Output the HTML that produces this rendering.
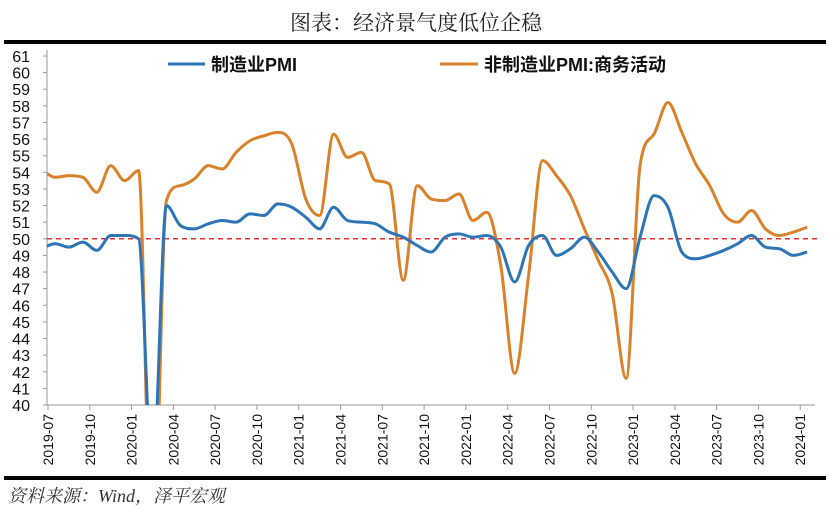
<!DOCTYPE html>
<html><head><meta charset="utf-8"><style>
html,body{margin:0;padding:0;background:#fff;width:833px;height:513px;overflow:hidden}
svg{display:block}
svg text{font-family:"Liberation Sans","Noto Sans CJK SC",sans-serif}
</style></head><body>
<svg id="c" width="833" height="513" xmlns="http://www.w3.org/2000/svg">
<text x="416" y="30" text-anchor="middle" font-size="21" fill="#222" style="font-family:'Liberation Serif','Noto Serif CJK SC',serif">图表：经济景气度低位企稳</text>
<rect x="4" y="40" width="822" height="4" fill="#000"/>
<rect x="4" y="476" width="822" height="4" fill="#000"/>
<text x="8" y="502" font-size="18" font-style="italic" fill="#333" style="font-family:'Liberation Serif','Noto Serif CJK SC',serif">资料来源：Wind，泽平宏观</text>
<defs><clipPath id="clip"><rect x="47" y="50" width="780" height="355"/></clipPath></defs>
<g id="axes"></g>
<g id="series" clip-path="url(#clip)"></g>
<g>
<line x1="168" y1="64" x2="205" y2="64" stroke="#2e75b6" stroke-width="3"/>
<text x="211" y="71" font-size="18" font-weight="bold" fill="#111">制造业PMI</text>
<line x1="440" y1="64" x2="478" y2="64" stroke="#d9822b" stroke-width="3"/>
<text x="484" y="71" font-size="18" font-weight="bold" fill="#111">非制造业PMI:商务活动</text>
</g>
</svg>
<script>
const yTicks=[40,41,42,43,44,45,46,47,48,49,50,51,52,53,54,55,56,57,58,59,60,61];
const xTickLabels=["2019-07","2019-10","2020-01","2020-04","2020-07","2020-10","2021-01","2021-04","2021-07","2021-10","2022-01","2022-04","2022-07","2022-10","2023-01","2023-04","2023-07","2023-10","2024-01"];
// series start at 2019-06 (partly clipped at left edge)
const mfg=[49.4,49.7,49.5,49.8,49.3,50.2,50.2,50.0,35.7,52.0,50.8,50.6,50.9,51.1,51.0,51.5,51.4,52.1,51.9,51.3,50.6,51.9,51.1,51.0,50.9,50.4,50.1,49.6,49.2,50.1,50.3,50.1,50.2,49.5,47.4,49.6,50.2,49.0,49.4,50.1,49.2,48.0,47.0,50.1,52.6,51.9,49.2,48.8,49.0,49.3,49.7,50.2,49.5,49.4,49.0,49.2];
const nonMfg=[54.2,53.7,53.8,53.7,52.8,54.4,53.5,54.1,29.6,52.3,53.2,53.6,54.4,54.2,55.2,55.9,56.2,56.4,55.7,52.4,51.4,56.3,54.9,55.2,53.5,53.3,47.5,53.2,52.4,52.3,52.7,51.1,51.6,48.4,41.9,47.8,54.7,53.8,52.6,50.6,48.7,46.7,41.6,54.4,56.3,58.2,56.4,54.5,53.2,51.5,51.0,51.7,50.6,50.2,50.4,50.7];
const threshold=50;
const X0=48,DX=13.93,Y0=405,YS=16.62,OFF=7;
const xTick=i=>X0+i*DX, xOf=i=>X0+(i-1)*DX+OFF, yOf=v=>Y0-(v-40)*YS;
const NS="http://www.w3.org/2000/svg";
const axes=document.getElementById('axes'),series=document.getElementById('series');
function mk(t,a,p){const e=document.createElementNS(NS,t);for(const k in a)e.setAttribute(k,a[k]);p.appendChild(e);return e;}
let e=mk('line',{x1:47,y1:50,x2:47,y2:405,stroke:'#999','stroke-width':1},axes);


e=mk('line',{x1:47,y1:405,x2:815,y2:405,stroke:'#999','stroke-width':1},axes);


yTicks.forEach(v=>{
 const y=yOf(v);
 mk('line',{x1:43,y1:y,x2:47,y2:y,stroke:'#999'},axes);
 const t=mk('text',{x:30,y:y+6,'text-anchor':'end','font-size':16,fill:'#111'},axes);t.textContent=v;
 
 
});
xTickLabels.forEach((s,i)=>{
 const x=xTick(i*3);
 mk('line',{x1:x,y1:405,x2:x,y2:410,stroke:'#999'},axes);
 const t=mk('text',{x:0,y:0,'text-anchor':'end','font-size':14,fill:'#111',transform:`translate(${x+5},414) rotate(-90)`},axes);t.textContent=s;
 
 
});
e=mk('line',{x1:47,y1:yOf(threshold),x2:820,y2:yOf(threshold),stroke:'#e03030','stroke-width':1.5,'stroke-dasharray':'5,4'},series);


function smooth(vals){
 const n=vals.length,x=vals.map((v,i)=>xOf(i)),y=vals.map(yOf);
 const d=[],m=[];
 for(let i=0;i<n-1;i++)d.push((y[i+1]-y[i])/(x[i+1]-x[i]));
 m[0]=d[0];m[n-1]=d[n-2];
 for(let i=1;i<n-1;i++){m[i]=(d[i-1]*d[i]<=0)?0:(d[i-1]+d[i])/2;}
 for(let i=0;i<n-1;i++){
  if(d[i]===0){m[i]=0;m[i+1]=0;continue;}
  const a=m[i]/d[i],b=m[i+1]/d[i],s=a*a+b*b;
  if(s>9){const t=3/Math.sqrt(s);m[i]=t*a*d[i];m[i+1]=t*b*d[i];}
 }
 let p=`M${x[0]},${y[0]}`;
 for(let i=0;i<n-1;i++){const h=(x[i+1]-x[i])/3;
  p+=` C${x[i]+h},${y[i]+m[i]*h} ${x[i+1]-h},${y[i+1]-m[i+1]*h} ${x[i+1]},${y[i+1]}`;}
 return p;
}
e=mk('path',{d:smooth(nonMfg),fill:'none',stroke:'#d9822b','stroke-width':3,'stroke-linejoin':'round'},series);


e=mk('path',{d:smooth(mfg),fill:'none',stroke:'#2e75b6','stroke-width':3,'stroke-linejoin':'round'},series);


</script>
</body></html>
